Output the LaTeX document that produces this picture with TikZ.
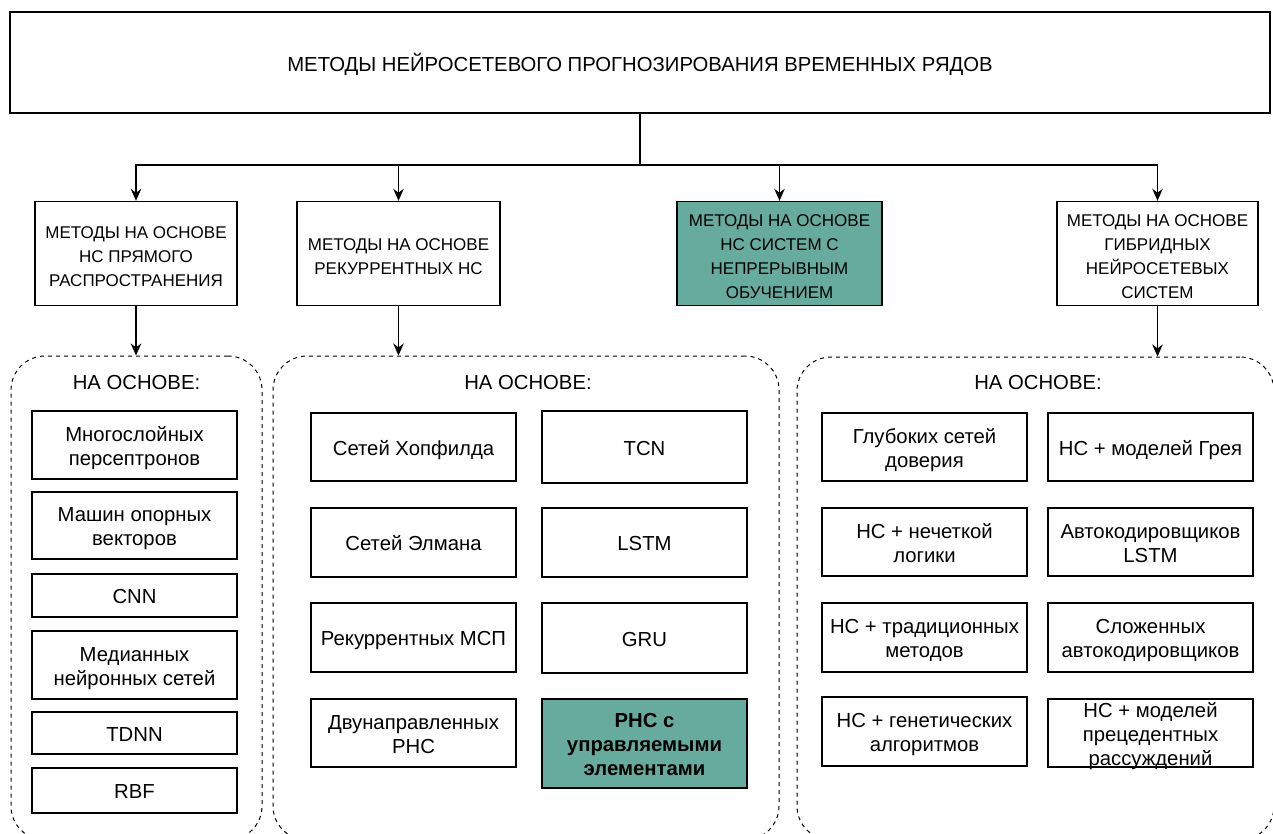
\documentclass[tikz,border=0pt]{standalone}
\usepackage{fontspec}
\setmainfont{Liberation Sans}
\usetikzlibrary{arrows.meta}
\definecolor{tealbox}{HTML}{67AB9F}
% struts that centre the capitals of a text block in its box
\newcommand\ita{\rule{0pt}{21.2pt}}
\newcommand\itb{\rule[-4.7pt]{0pt}{0pt}}
\newcommand\tta{\rule{0pt}{22.2pt}}
\newcommand\hta{\rule{0pt}{22.2pt}}
\newcommand\htb{\rule[-4pt]{0pt}{0pt}}
\begin{document}
\begin{tikzpicture}[x=1pt,y=-1pt,
  box/.style={draw=black, line width=1.2pt, align=center, inner sep=1pt, font=\fontsize{20.3}{24}\selectfont},
  hbox/.style={box, font=\fontsize{17}{24.3}\selectfont},
  cont/.style={draw=black, dash pattern=on 4pt off 4pt, line width=1pt, rounded corners=34pt},
  arr/.style={-{Stealth[length=12pt,width=10.5pt]}, line width=1.2pt},
  lbl/.style={font=\fontsize{20.3}{24}\selectfont, inner sep=0pt}]
\path[use as bounding box, clip] (0,0) rectangle (1273,834);

% top
\node[box, minimum width=1260pt, minimum height=101pt] (top) at (640,62.5) {\tta МЕТОДЫ НЕЙРОСЕТЕВОГО ПРОГНОЗИРОВАНИЯ ВРЕМЕННЫХ РЯДОВ\itb};

% level 2
\node[hbox, minimum width=202pt, minimum height=104pt] (b1) at (136,253.4) {\hta МЕТОДЫ НА ОСНОВЕ\\НС ПРЯМОГО\\РАСПРОСТРАНЕНИЯ\htb};
\node[hbox, minimum width=203pt, minimum height=104pt] (b2) at (398.5,253.4) {\hta МЕТОДЫ НА ОСНОВЕ\\РЕКУРРЕНТНЫХ НС\htb};
\node[hbox, fill=tealbox, minimum width=205pt, minimum height=104pt] (b3) at (779.5,253.4) {\hta МЕТОДЫ НА ОСНОВЕ\\НС СИСТЕМ С\\НЕПРЕРЫВНЫМ\\ОБУЧЕНИЕМ\htb};
\node[hbox, minimum width=201pt, minimum height=104pt] (b4) at (1157.5,253.4) {\hta МЕТОДЫ НА ОСНОВЕ\\ГИБРИДНЫХ\\НЕЙРОСЕТЕВЫХ\\СИСТЕМ\htb};

\coordinate (j) at (640,165);
\draw[line width=1.2pt] (top.south) -- (j);
\draw[arr] (j) -| (b1);
\draw[arr] (j) -| (b2);
\draw[arr] (j) -| (b3);
\draw[arr] (j) -| (b4);

% containers
\node[cont, minimum width=251pt, minimum height=484pt] (c1) at (136.5,598) {};
\node[cont, minimum width=506pt, minimum height=484pt] (c2) at (526,598) {};
\node[cont, minimum width=477pt, minimum height=483pt] (c3) at (1035.5,598.5) {};

\draw[arr] (b1.south) -- (b1.south |- c1.north);
\draw[arr] (b2.south) -- (b2.south |- c2.north);
\draw[arr] (b4.south) -- (b4.south |- c3.north);

\node[lbl] (l1) at (136.5,383) {НА ОСНОВЕ:};
\node[lbl] (l2) at (528,383) {НА ОСНОВЕ:};
\node[lbl] (l3) at (1038,383) {НА ОСНОВЕ:};

% left container
\node[box, minimum width=205pt, minimum height=68pt] (m1) at (134.5,445) {\ita Многослойных\\персептронов\itb};
\node[box, minimum width=205pt, minimum height=67pt] (m2) at (134.5,525.5) {\ita Машин опорных\\векторов\itb};
\node[box, minimum width=205pt, minimum height=43pt] (m3) at (134.5,595.5) {\ita CNN\itb};
\node[box, minimum width=205pt, minimum height=68pt] (m4) at (134.5,665) {\ita Медианных\\нейронных сетей\itb};
\node[box, minimum width=205pt, minimum height=42pt] (m5) at (134.5,733) {\ita TDNN\itb};
\node[box, minimum width=205pt, minimum height=45pt] (m6) at (134.5,790.5) {\ita RBF\itb};

% middle container
\node[box, minimum width=205pt, minimum height=68pt] (r1) at (413.5,447) {\ita Сетей Хопфилда\itb};
\node[box, minimum width=205pt, minimum height=69pt] (r2) at (413.5,542.5) {\ita Сетей Элмана\itb};
\node[box, minimum width=205pt, minimum height=69pt] (r3) at (413.5,637.5) {\ita Рекуррентных МСП\itb};
\node[box, minimum width=205pt, minimum height=68pt] (r4) at (413.5,733) {\ita Двунаправленных\\РНС\itb};
\node[box, minimum width=205pt, minimum height=72pt] (s1) at (644.5,447) {\ita TCN\itb};
\node[box, minimum width=205pt, minimum height=69pt] (s2) at (644.5,542.5) {\ita LSTM\itb};
\node[box, minimum width=205pt, minimum height=70pt] (s3) at (644.5,638) {\ita GRU\itb};
\node[box, fill=tealbox, font=\fontsize{20.3}{24}\selectfont\bfseries, minimum width=205pt, minimum height=89pt] (s4) at (644.5,743.5) {\ita РНС с\\управляемыми\\элементами\itb};

% right container
\node[box, minimum width=205pt, minimum height=68pt] (h1) at (924.5,447) {\ita Глубоких сетей\\доверия\itb};
\node[box, minimum width=205pt, minimum height=68pt] (h2) at (924.5,542) {\ita НС + нечеткой\\логики\itb};
\node[box, minimum width=205pt, minimum height=69pt] (h3) at (924.5,637.5) {\ita НС + традиционных\\методов\itb};
\node[box, minimum width=205pt, minimum height=69pt] (h4) at (924.5,731.5) {\ita НС + генетических\\алгоритмов\itb};
\node[box, minimum width=205pt, minimum height=68pt] (g1) at (1150.5,447) {\ita НС + моделей Грея\itb};
\node[box, minimum width=205pt, minimum height=68pt] (g2) at (1150.5,542) {\ita Автокодировщиков\\LSTM\itb};
\node[box, minimum width=205pt, minimum height=69pt] (g3) at (1150.5,637.5) {\ita Сложенных\\автокодировщиков\itb};
\node[box, minimum width=205pt, minimum height=68pt,
  label={[lbl, align=center]center:\ita НС + моделей\\прецедентных\\рассуждений\itb}] (g4) at (1150.5,733) {};
\end{tikzpicture}
\end{document}
